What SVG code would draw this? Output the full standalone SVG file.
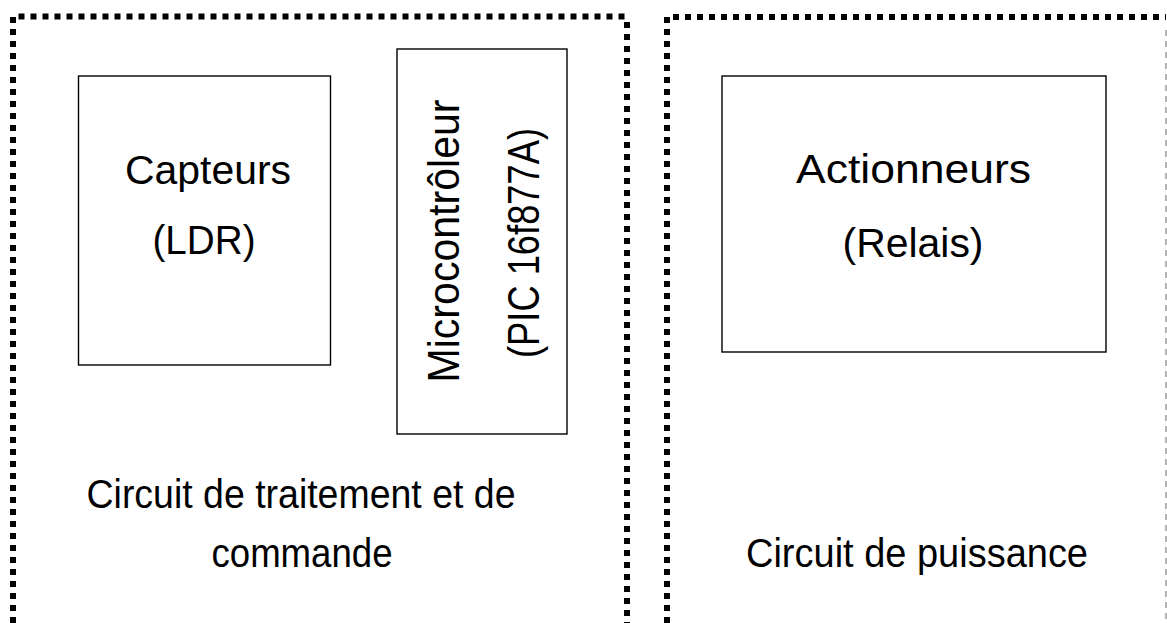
<svg xmlns="http://www.w3.org/2000/svg" width="1167" height="623" viewBox="0 0 1167 623">
  <style>
    .panel { fill: none; stroke: #000; stroke-width: 6; stroke-dasharray: 6 6; }
    .edge { fill: none; stroke: #9a9a9a; stroke-width: 1.5; stroke-dasharray: 6 5; }
    .box { fill: #fff; stroke: #000; stroke-width: 1.4; }
    .lbl { font-family: "Liberation Sans Narrow", "Liberation Sans", Arial, sans-serif; fill: #000; text-anchor: middle; }
    .big { font-size: 40px; }
    .mcu { font-size: 44px; }
  </style>
  <rect width="1167" height="623" fill="#fff"/>

  <!-- control / processing panel -->
  <g id="panel-commande">
    <path class="panel" d="M13,623 V16.5 H630"/>
    <path class="panel" d="M627,22 V623"/>
    <text class="lbl big" x="301" y="508" textLength="429" lengthAdjust="spacingAndGlyphs">Circuit de traitement et de</text>
    <text class="lbl big" x="302" y="567" textLength="181" lengthAdjust="spacingAndGlyphs">commande</text>
  </g>

  <!-- power panel -->
  <g id="panel-puissance">
    <path class="panel" d="M667,623 V17 H1166"/>
    <path class="edge" d="M1166,30 V623"/>
    <text class="lbl big" x="917" y="567" textLength="342" lengthAdjust="spacingAndGlyphs">Circuit de puissance</text>
  </g>

  <g id="capteurs">
    <rect class="box" x="78.5" y="76" width="252" height="289"/>
    <text class="lbl big" x="208" y="184" textLength="166" lengthAdjust="spacingAndGlyphs">Capteurs</text>
    <text class="lbl big" x="204" y="254" textLength="103" lengthAdjust="spacingAndGlyphs">(LDR)</text>
  </g>

  <g id="microcontroleur">
    <rect class="box" x="397" y="49" width="170" height="385"/>
    <text class="lbl mcu" transform="translate(459,241) rotate(-90)" textLength="283" lengthAdjust="spacingAndGlyphs">Microcontrôleur</text>
    <text class="lbl mcu" transform="translate(539,243) rotate(-90)" textLength="230" lengthAdjust="spacingAndGlyphs">(PIC 16f877A)</text>
  </g>

  <g id="actionneurs">
    <rect class="box" x="722" y="76" width="384" height="276"/>
    <text class="lbl big" x="913.5" y="183" textLength="235" lengthAdjust="spacingAndGlyphs">Actionneurs</text>
    <text class="lbl big" x="913" y="257" textLength="141" lengthAdjust="spacingAndGlyphs">(Relais)</text>
  </g>

  <g id="connectors"></g>
</svg>
